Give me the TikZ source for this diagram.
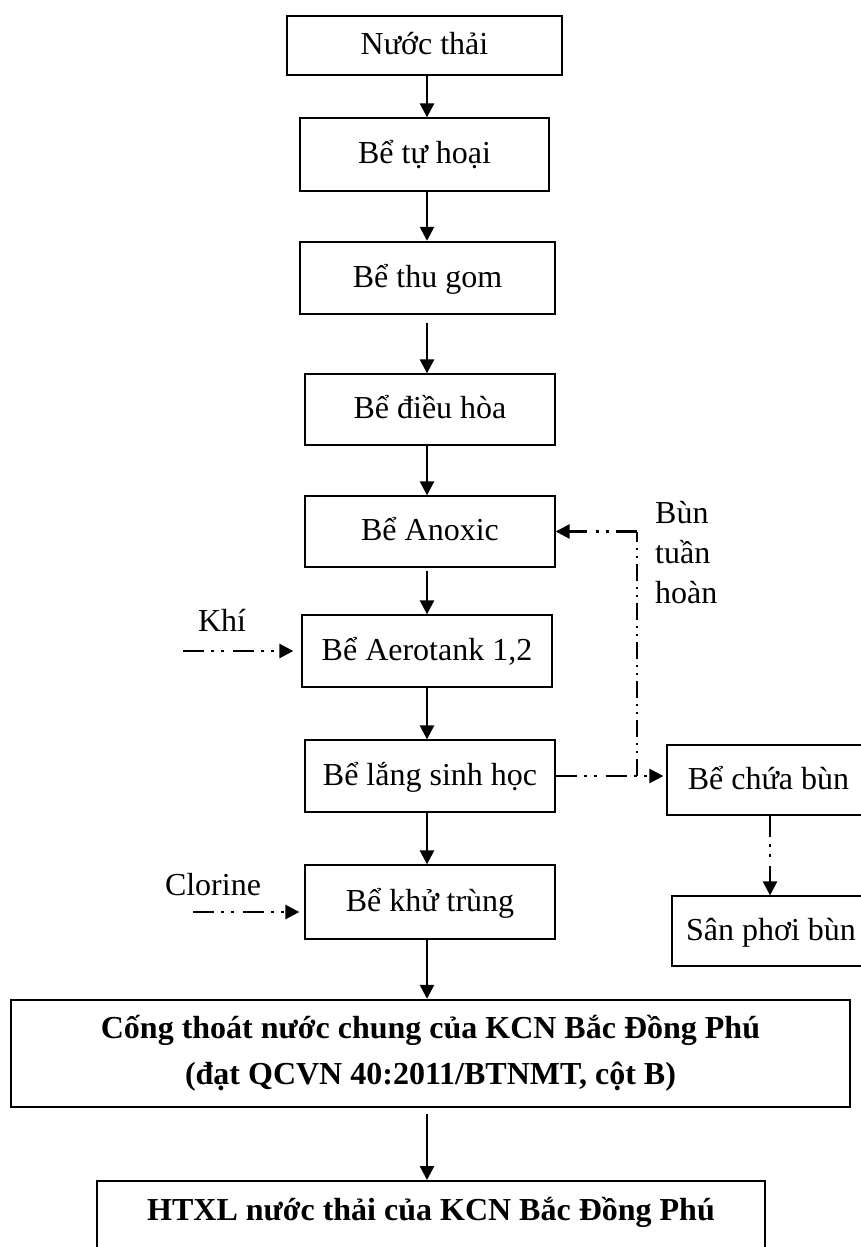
\documentclass[tikz,border=0pt]{standalone}
\usepackage{fontspec}
\setmainfont{Liberation Serif}
\usetikzlibrary{arrows.meta}
\begin{document}
\begin{tikzpicture}[x=1pt,y=-1pt,
  font=\fontsize{32}{40}\selectfont,
  box/.style={draw=black, line width=1.3pt, inner sep=0pt,
    text height=25pt, text depth=7pt},
  thickbox/.style={box, line width=2.4pt},
  arr/.style={line width=2.6pt, -{Triangle[length=14pt,width=14pt]}},
  dd/.style={line width=2.6pt, dash pattern=on 21pt off 7pt on 3pt off 7pt on 3pt off 9pt},
  ddv/.style={line width=1.6pt, dash pattern=on 17pt off 6pt on 2pt off 6pt on 2pt off 6pt},
  ddarr/.style={dd, -{Triangle[length=14pt,width=14pt]}},
  lbl/.style={inner sep=0pt}
]
\useasboundingbox (0,0) rectangle (861,1247);
\begin{scope}
\clip (0,0) rectangle (861,1247);

% main treatment line
\node[box, minimum width=275pt, minimum height=59pt] (n1) at (424.5,45.5) {Nước thải};
\node[box, minimum width=249pt, minimum height=73pt] (n2) at (424.5,154.5) {Bể tự hoại};
\node[thickbox, minimum width=255pt, minimum height=72pt] (n3) at (427.5,278) {Bể thu gom};
\node[box, minimum width=250pt, minimum height=71pt] (n4) at (430,409.5) {Bể điều hòa};
\node[box, minimum width=250pt, minimum height=71pt] (n5) at (430,531.5) {Bể Anoxic};
\node[box, minimum width=250pt, minimum height=72pt] (n6) at (427,651) {Bể Aerotank 1,2};
\node[box, minimum width=250pt, minimum height=72pt] (n7) at (430,776) {Bể lắng sinh học};
\node[box, minimum width=250pt, minimum height=74pt] (n8) at (430,902) {Bể khử trùng};
\node[thickbox, minimum width=839pt, minimum height=107pt, text height=, text depth=,
  align=center, font=\bfseries\fontsize{32}{46}\selectfont] (n9) at (430.5,1053.5)
  {Cống thoát nước chung của KCN Bắc Đồng Phú\\(đạt QCVN 40:2011/BTNMT, cột B)};
\node[thickbox, minimum width=668pt, minimum height=140pt, anchor=north] (n10) at (431,1180) {};
\node[lbl, font=\bfseries\fontsize{32}{40}\selectfont] (n10t) at (431,1212)
  {HTXL nước thải của KCN Bắc Đồng Phú};

% sludge line
\node[box, minimum width=203pt, minimum height=70pt] (n11) at (768.5,780) {Bể chứa bùn};
\node[box, minimum width=198pt, minimum height=70pt] (n12) at (771,931) {Sân phơi bùn};

% side labels
\node[lbl] (khi) at (222,620) {Khí};
\node[lbl] (clo) at (213,885) {Clorine};
\node[lbl, anchor=west, align=left] (bth) at (655,553) {Bùn\\tuần\\hoàn};

% flow arrows
\coordinate (ax) at (427,0);
\draw[arr] (n1.south -| ax) -- (n2.north -| ax);
\draw[arr] (n2.south -| ax) -- (n3.north -| ax);
\draw[arr, shorten <=8pt] (n3.south -| ax) -- (n4.north -| ax);
\draw[arr] (n4.south -| ax) -- (n5.north -| ax);
\draw[arr, shorten <=3pt] (n5.south -| ax) -- (n6.north -| ax);
\draw[arr] (n6.south -| ax) -- (n7.north -| ax);
\draw[arr] (n7.south -| ax) -- (n8.north -| ax);
\draw[arr] (n8.south -| ax) -- (n9.north -| ax);
\draw[arr, shorten <=6pt] (n9.south -| ax) -- (n10.north -| ax);

% air and chlorine dosing
\coordinate (khis) at (183,651);
\coordinate (clos) at (193,912);
\draw[ddarr, shorten >=8pt] (khis) -- (khis -| n6.west);
\draw[ddarr, shorten >=5pt] (clos) -- (clos -| n8.west);

% sludge return and sludge handling
\coordinate (jn) at (637,0);
\coordinate (sx) at (770,0);
\draw[ddarr, shorten >=3pt] (n7.east) -- (n11.west |- n7.east);
\draw[ddv] (jn |- n7.east) -- (jn |- n5.east);
\draw[ddarr] (jn |- n5.east) -- (n5.east);
\draw[ddarr] (n11.south -| sx) -- (n12.north -| sx);
\end{scope}
\end{tikzpicture}
\end{document}
